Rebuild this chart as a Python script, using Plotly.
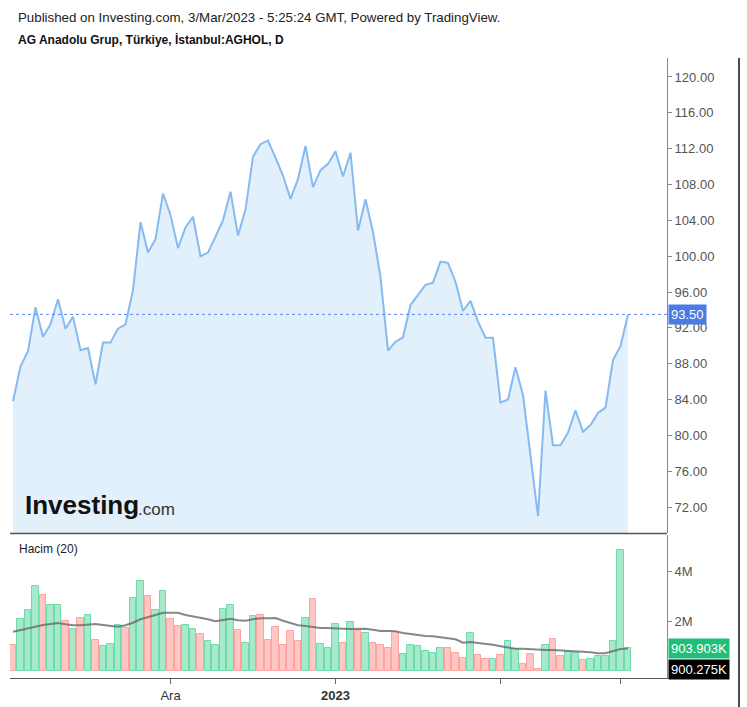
import plotly.graph_objects as go

# ---------------- data ----------------
price = [83.8, 87.7, 89.4, 94.3, 91.0, 92.4, 95.2, 91.9, 93.25, 89.5,
         89.75, 85.7, 90.35, 90.35, 91.9, 92.4, 96.2, 103.8, 100.4, 101.9,
         107.0, 104.6, 100.9, 103.2, 104.4, 100.0, 100.4, 102.3, 104.0, 107.2,
         102.3, 105.2, 111.1, 112.5, 112.9, 111.0, 109.0, 106.4, 108.6, 112.3,
         107.7, 109.6, 110.3, 111.7, 108.9, 111.55, 102.85, 106.35, 102.7, 97.7,
         89.45, 90.45, 90.95, 94.55, 95.7, 96.8, 97.05, 99.4, 99.25, 97.15,
         93.9, 95.0, 92.7, 90.9, 90.9, 83.65, 84.0, 87.6, 84.5, 77.4,
         71.0, 85.0, 78.9, 78.9, 80.3, 82.8, 80.4, 81.15, 82.5, 83.1,
         88.4, 89.95, 93.5]

volume_m = [1.04, 2.08, 2.44, 3.40, 3.04, 2.63, 2.63, 2.00, 1.68, 2.13,
            2.23, 1.24, 1.00, 1.08, 1.83, 1.73, 2.93, 3.59, 2.99, 2.44,
            3.19, 2.08, 1.80, 1.83, 1.68, 1.48, 1.20, 1.03, 2.48, 2.63,
            1.64, 1.13, 2.19, 2.23, 1.24, 1.75, 1.03, 1.60, 1.19, 2.13,
            2.88, 1.08, 0.93, 1.88, 1.13, 1.95, 1.60, 1.52, 1.13, 1.04,
            0.93, 1.55, 0.68, 1.03, 0.99, 0.80, 0.73, 0.93, 0.93, 0.73,
            0.53, 1.53, 0.64, 0.49, 0.49, 0.64, 1.20, 0.88, 0.28, 0.68,
            0.09, 1.03, 1.28, 0.60, 0.77, 0.73, 0.44, 0.48, 0.59, 0.59,
            1.20, 4.83, 0.904]

# u = up (green) bar, d = down (red) bar
direction = list("".join([
    "duuuduudud",
    "uduuuduudu",
    "udduuduuuu",
    "duuddddddu",
    "duuudududd",
    "dduuuuuudd",
    "dudduduudd",
    "dudduuduuu",
    "uuu",
]))

vol_ma_m = [1.57, 1.64, 1.71, 1.77, 1.84, 1.88, 1.92, 1.87, 1.83, 1.83,
            1.87, 1.88, 1.84, 1.80, 1.77, 1.83, 1.93, 2.07, 2.17, 2.24,
            2.33, 2.33, 2.33, 2.24, 2.19, 2.15, 2.07, 1.99, 2.04, 2.09,
            2.03, 2.01, 2.07, 2.11, 2.11, 2.12, 2.01, 1.91, 1.83, 1.80,
            1.75, 1.72, 1.72, 1.72, 1.69, 1.68, 1.69, 1.69, 1.65, 1.60,
            1.60, 1.59, 1.52, 1.47, 1.44, 1.40, 1.39, 1.35, 1.33, 1.27,
            1.13, 1.16, 1.12, 1.09, 1.05, 0.99, 0.95, 0.89, 0.89, 0.87,
            0.84, 0.84, 0.84, 0.83, 0.80, 0.80, 0.77, 0.75, 0.71, 0.71,
            0.79, 0.88, 0.90]

x_tick_index = [21, 43, 65, 81]
x_tick_text = ["Ara", "<b>2023</b>", "", ""]
vol_tick_vals = [2e6, 4e6]
vol_tick_text = ["2M", "4M"]

title_line1 = "Published on Investing.com, 3/Mar/2023 - 5:25:24 GMT, Powered by TradingView."
title_line2 = "AG Anadolu Grup, Türkiye, İstanbul:AGHOL, D"
vol_label = "Hacim (20)"
last_vol_text = "903.903K"
last_ma_text = "900.275K"

# -------------- helpers --------------
W, H = 747, 707
def PX(x):
    return x / W
def PY(y):
    return 1 - y / H

n = len(price)
idx = list(range(n))
dirs = (direction + ["u"] * n)[:n]
fill_cols = ["#a6e9cb" if d == "u" else "#ffc7c3" for d in dirs]
line_cols = ["#6ddcaa" if d == "u" else "#ffa39e" for d in dirs]

FONT = "Liberation Sans, Arial, sans-serif"

fig = go.Figure()

fig.add_trace(go.Scatter(
    x=idx, y=price, mode="lines",
    line=dict(color="#86baf0", width=2),
    fill="tozeroy", fillcolor="#e1f0fa",
    xaxis="x", yaxis="y", hoverinfo="skip"))

fig.add_trace(go.Bar(
    x=idx, y=[v * 1e6 for v in volume_m], width=0.86,
    marker=dict(color=fill_cols, line=dict(color=line_cols, width=1)),
    xaxis="x", yaxis="y2", hoverinfo="skip"))

fig.add_trace(go.Scatter(
    x=idx, y=[v * 1e6 for v in vol_ma_m], mode="lines",
    line=dict(color="rgba(105,105,105,0.8)", width=2),
    xaxis="x", yaxis="y2", hoverinfo="skip"))

fig.update_layout(
    width=W, height=H,
    margin=dict(l=0, r=0, t=0, b=0),
    paper_bgcolor="white", plot_bgcolor="white",
    showlegend=False,
    font=dict(family=FONT, size=13, color="#333"),
    bargap=0,
    xaxis=dict(
        domain=[PX(10), PX(667)], range=[-0.4, 87.2], anchor="y2",
        showgrid=False, zeroline=False,
        showline=True, linecolor="#555", linewidth=1,
        ticks="outside", ticklen=5, tickcolor="#666",
        tickvals=x_tick_index, ticktext=x_tick_text,
        tickfont=dict(size=13, color="#333")),
    yaxis=dict(
        domain=[PY(533), PY(58)], range=[69.10, 122.12], anchor="x",
        side="right", showgrid=False, zeroline=False,
        showline=True, linecolor="#888", linewidth=1,
        ticks="outside", ticklen=4, tickcolor="#888",
        tick0=0, dtick=4, tickformat=".2f",
        tickfont=dict(size=13, color="#555")),
    yaxis2=dict(
        domain=[PY(678), PY(535)], range=[-0.28e6, 5.44e6], anchor="x",
        side="right", showgrid=False, zeroline=False,
        showline=True, linecolor="#888", linewidth=1,
        ticks="outside", ticklen=4, tickcolor="#888",
        tickvals=vol_tick_vals, ticktext=vol_tick_text,
        tickfont=dict(size=13, color="#555")),
)

shapes = [
    dict(type="line", xref="paper", yref="y", x0=PX(10), x1=PX(667),
         y0=price[-1], y1=price[-1],
         line=dict(color="#5b88ea", width=1, dash="dot")),
    dict(type="line", xref="paper", yref="paper", x0=PX(10), x1=PX(667),
         y0=PY(533.5), y1=PY(533.5), line=dict(color="#555", width=1.5)),
    dict(type="line", xref="paper", yref="paper", x0=PX(739), x1=PX(739),
         y0=PY(58), y1=PY(707), line=dict(color="#111", width=1.5)),
]
fig.update_layout(shapes=shapes)

ann = [
    dict(text=title_line1, xref="paper", yref="paper", x=PX(16), y=PY(17),
         xanchor="left", yanchor="middle", showarrow=False,
         font=dict(size=13.3, color="#222")),
    dict(text="<b>" + title_line2 + "</b>", xref="paper", yref="paper",
         x=PX(16), y=PY(40), xanchor="left", yanchor="middle", showarrow=False,
         font=dict(size=12, color="#111")),
    dict(text=vol_label, xref="paper", yref="paper", x=PX(17), y=PY(549),
         xanchor="left", yanchor="middle", showarrow=False,
         font=dict(size=12, color="#222")),
    dict(text="<b>Investing</b>", xref="paper", yref="paper", x=PX(23),
         y=PY(505), xanchor="left", yanchor="middle", showarrow=False,
         font=dict(size=26, color="#111")),
    dict(text=".com", xref="paper", yref="paper", x=PX(136), y=PY(509),
         xanchor="left", yanchor="middle", showarrow=False,
         font=dict(size=17, color="#333")),
    dict(text="93.50", xref="paper", yref="y", x=PX(668), y=price[-1],
         xanchor="left", yanchor="middle", showarrow=False,
         bgcolor="#4b7be3", borderpad=2, font=dict(size=13, color="white")),
    dict(text=last_vol_text, xref="paper", yref="y2", x=PX(668),
         y=volume_m[-1] * 1e6, xanchor="left", yanchor="middle",
         showarrow=False, bgcolor="#1fbf79", borderpad=2,
         font=dict(size=13, color="white")),
    dict(text=last_ma_text, xref="paper", yref="paper", x=PX(668),
         y=PY(669), xanchor="left", yanchor="middle", showarrow=False,
         bgcolor="#000000", borderpad=2, font=dict(size=13, color="white")),
]
fig.update_layout(annotations=ann)

fig.write_html("out.html")
